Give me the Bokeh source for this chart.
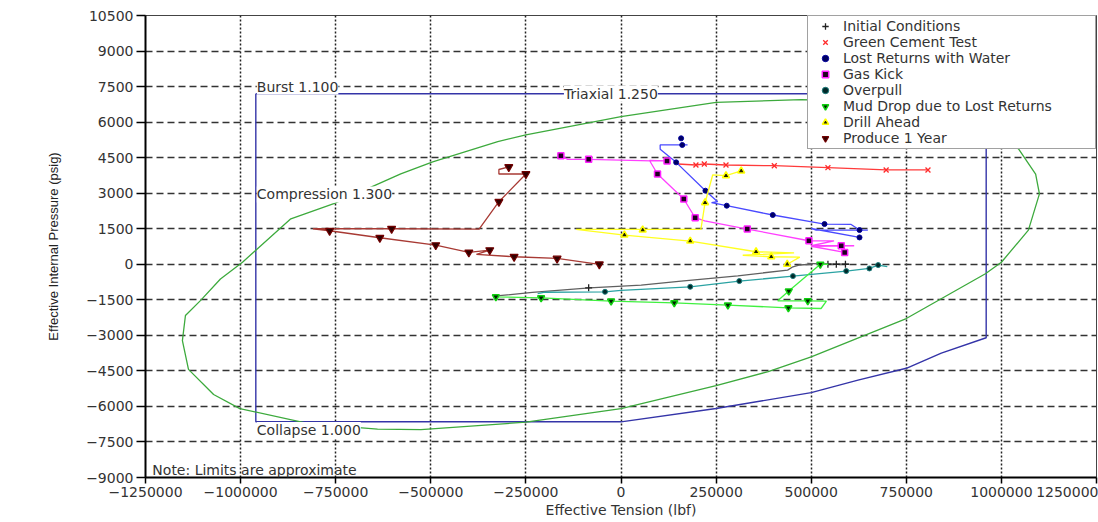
from bokeh.plotting import figure
from bokeh.models import (Range1d, FixedTicker, BasicTickFormatter, Label, Legend, LegendItem)
from bokeh.embed import file_html
from bokeh.resources import INLINE

# ---------------- data ----------------
x_ticks = [-1250000, -1000000, -750000, -500000, -250000, 0, 250000, 500000, 750000, 1000000, 1250000]
y_ticks = [-9000, -7500, -6000, -4500, -3000, -1500, 0, 1500, 3000, 4500, 6000, 7500, 9000, 10500]

# API envelope (blue)
api_x = [-960000, 960000, 960000, 842000, 750000, 623000, 500000, 250000, 0, -960000, -960000]
api_y = [7200, 7200, -3100, -3750, -4390, -4890, -5420, -6090, -6650, -6650, 7200]

# Triaxial ellipse (green)
tri_x = [474000, 250000, 0, -250000, -324000, -495000, -579000, -666000, -755000, -868000, -966000,
         -995000, -1053000, -1105000, -1145000, -1153000, -1137000, -1071000, -1002000, -821000,
         -640000, -526000, -250000, 0, 250000, 387000, 500000, 750000, 958000, 1000000, 1071000,
         1100000, 1090000, 1045000, 950000, 850000, 700000, 474000]
tri_y = [6950, 6835, 6229, 5466, 5176, 4322, 3813, 3190, 2555, 1920, 508,
         85, -622, -1525, -2161, -3220, -4436, -5496, -6090, -6725,
         -6960, -6980, -6665, -6090, -5127, -4530, -3910, -2290, -401, 85, 1440,
         2970, 3800, 4870, 5800, 6400, 6850, 6950]

# Initial Conditions
ic_x = [-334000, -233000, -83000, 53000, 158000, 307000, 438000, 452000, 470000, 500000, 490000, 544000, 566000, 600000]
ic_y = [-1345, -1190, -993, -880, -710, -486, -245, -106, -30, 0, 40, 0, 0, 0]
ic_mx = [-85000, 544000, 566000, 590000]
ic_my = [-993, 0, 0, 0]

# Green Cement Test
gc_x = [149000, 197000, 219000, 276000, 403000, 544000, 697000, 775000, 807000]
gc_y = [4233, 4190, 4233, 4190, 4160, 4077, 3980, 3980, 3980]
gc_mx = [197000, 219000, 276000, 403000, 544000, 697000, 807000]
gc_my = [4190, 4233, 4190, 4160, 4077, 3980, 3980]

# Lost Returns with Water
lr_x = [175000, 103000, 103000, 145000, 222000, 254000, 238000, 278000, 399000, 498000, 535000, 605000,
        627000, 649000, 513000, 500000, 627000]
lr_y = [5036, 5036, 4850, 4301, 3105, 2640, 2600, 2472, 2080, 1796, 1698, 1680,
        1445, 1445, 1445, 1510, 1132]
lr_mx = [158000, 161000, 145000, 222000, 278000, 399000, 535000, 627000, 627000]
lr_my = [5316, 5036, 4301, 3105, 2472, 2080, 1698, 1445, 1132]

# Gas Kick
gk_x = [-158000, -140000, -85000, 79000, 121000, 75000, 96000, 165000, 195000, 220000, 332000, 494000,
        560000, 500000, 613000, 500000, 588000]
gk_y = [4584, 4430, 4428, 4360, 4360, 4380, 3811, 2755, 1965, 1830, 1487, 993,
        990, 782, 782, 760, 498]
gk_mx = [-158000, -85000, 121000, 96000, 165000, 195000, 332000, 494000, 579000, 588000]
gk_my = [4584, 4428, 4360, 3811, 2755, 1965, 1487, 993, 782, 498]

# Overpull
op_x = [-219000, -200000, -42000, 0, 182000, 311000, 452000, 592000, 653000, 676000, 700000]
op_y = [-1235, -1180, -1162, -1100, -950, -710, -500, -287, -177, -34, -100]
op_mx = [-42000, 182000, 311000, 452000, 592000, 653000, 676000]
op_my = [-1162, -950, -710, -500, -287, -177, -34]

# Mud Drop due to Lost Returns
md_x = [-335000, -329000, -210000, -26000, 140000, 281000, 440000, 526000, 540000, 491000, 412000,
        441000, 524000, 545000]
md_y = [-1360, -1373, -1415, -1555, -1627, -1724, -1838, -1867, -1555, -1542, -1542,
        -1132, 0, 0]
md_mx = [-329000, -210000, -26000, 140000, 281000, 440000, 491000, 441000, 524000]
md_my = [-1373, -1415, -1555, -1627, -1724, -1838, -1542, -1132, 0]

# Drill Ahead
da_x = [316000, 276000, 241000, 221000, 210000, 57000, -118000, 9000, 182000, 355000, 455000, 320000,
        395000, 470000, 437000]
da_y = [3938, 3739, 3769, 2598, 1470, 1470, 1470, 1234, 980, 528, 480, 380,
        317, 300, 0]
da_mx = [316000, 276000, 221000, 57000, 9000, 182000, 355000, 395000, 437000]
da_my = [3938, 3739, 2598, 1445, 1234, 980, 528, 317, 0]

# Produce 1 Year
pu_x = [-295000, -321000, -321000, -250000, -321000, -373000, -603000, -810000, -766000, -634000,
        -487000, -400000, -345000, -380000, -281000, -168000, -57000]
pu_y = [4106, 4000, 3810, 3810, 2640, 1487, 1500, 1500, 1415, 1120,
        810, 500, 600, 420, 317, 245, 0]
pu_mx = [-295000, -250000, -321000, -603000, -766000, -634000, -487000, -400000, -345000, -281000, -168000, -57000]
pu_my = [4106, 3810, 2640, 1500, 1415, 1120, 810, 500, 600, 317, 245, 0]

series_names = ["Initial Conditions", "Green Cement Test", "Lost Returns with Water", "Gas Kick",
                "Overpull", "Mud Drop due to Lost Returns", "Drill Ahead", "Produce 1 Year"]

# ---------------- figure ----------------
FONT = "DejaVu Sans"
TXT = "#333333"

p = figure(width=1098, height=522, output_backend="svg", toolbar_location=None,
           x_range=Range1d(-1250000, 1250000), y_range=Range1d(-9000, 10500),
           min_border_left=145, min_border_right=2, min_border_top=15, min_border_bottom=45)
p.background_fill_color = "white"
p.border_fill_color = "white"
p.outline_line_color = "#444444"
p.outline_line_width = 1

for ax in (p.xaxis[0], p.yaxis[0]):
    ax.axis_line_color = "black"
    ax.axis_line_width = 2
    ax.major_tick_line_color = "black"
    ax.major_tick_line_width = 1.5
    ax.minor_tick_line_color = None
    ax.major_label_text_font = FONT
    ax.major_label_text_font_size = "14px"
    ax.major_label_text_color = TXT
    ax.formatter = BasicTickFormatter(use_scientific=False)

p.xaxis[0].ticker = FixedTicker(ticks=x_ticks)
p.yaxis[0].ticker = FixedTicker(ticks=y_ticks)
p.xaxis[0].major_tick_in = 0
p.xaxis[0].major_tick_out = 6
p.xaxis[0].major_label_standoff = 3
p.yaxis[0].major_tick_in = 0
p.yaxis[0].major_tick_out = 9
p.yaxis[0].major_label_standoff = 3

p.xaxis[0].axis_label = "Effective Tension (lbf)"
p.xaxis[0].axis_label_text_font = FONT
p.xaxis[0].axis_label_text_font_size = "14px"
p.xaxis[0].axis_label_text_font_style = "normal"
p.xaxis[0].axis_label_text_color = TXT
p.xaxis[0].axis_label_standoff = 2

p.yaxis[0].axis_label = "Effective Internal Pressure (psig)"
p.yaxis[0].axis_label_text_font = "Liberation Sans Narrow, Liberation Sans, sans-serif"
p.yaxis[0].axis_label_text_font_size = "13px"
p.yaxis[0].axis_label_text_font_style = "normal"
p.yaxis[0].axis_label_text_color = "#222222"
p.yaxis[0].axis_label_standoff = 22

p.xgrid.grid_line_color = "#222222"
p.xgrid.grid_line_dash = "2 2"
p.xgrid.grid_line_width = 1.5
p.ygrid.grid_line_color = "#333333"
p.ygrid.grid_line_dash = "7 4"
p.ygrid.grid_line_width = 1.5

# envelope
p.line(api_x, api_y, line_color="#3434A8", line_width=1.4)
p.line(tri_x, tri_y, line_color="#3DAA3D", line_width=1.3)

styles = [
    (ic_x, ic_y, ic_mx, ic_my, "#606060", dict(marker="cross", size=7, line_color="#222222", line_width=1.3)),
    (gc_x, gc_y, gc_mx, gc_my, "#FF3A3A", dict(marker="x", size=7, line_color="#FF2A2A", line_width=1.3)),
    (lr_x, lr_y, lr_mx, lr_my, "#4A4AFF", dict(marker="circle", size=5, fill_color="#000060", line_color="#0000A0", line_width=1)),
    (gk_x, gk_y, gk_mx, gk_my, "#FF40FF", dict(marker="square", size=6, fill_color="#200020", line_color="#FF20FF", line_width=1.5)),
    (op_x, op_y, op_mx, op_my, "#2BA3A3", dict(marker="circle", size=5, fill_color="#002828", line_color="#1A7A7A", line_width=1)),
    (md_x, md_y, md_mx, md_my, "#40F040", dict(marker="inverted_triangle", size=7, fill_color="#002000", line_color="#10D010", line_width=1.5)),
    (da_x, da_y, da_mx, da_my, "#FFFF20", dict(marker="triangle", size=7, fill_color="#202000", line_color="#FFFF00", line_width=1.5)),
    (pu_x, pu_y, pu_mx, pu_my, "#A83A34", dict(marker="inverted_triangle", size=8, fill_color="#300000", line_color="#700000", line_width=1.2)),
]

items = []
for name, (lx, ly, mx, my, lc, mk) in zip(series_names, styles):
    p.line(lx, ly, line_color=lc, line_width=1.3)
    r = p.scatter(mx, my, **mk)
    items.append(LegendItem(label=name, renderers=[r]))

legend = Legend(items=items, location="top_right", margin=0, padding=2, spacing=0,
                label_height=16, glyph_height=16, glyph_width=30, label_standoff=3,
                label_width=250,
                label_text_font=FONT, label_text_font_size="14px", label_text_color=TXT,
                border_line_color="#444444", border_line_width=1,
                background_fill_color="white", background_fill_alpha=1.0)
p.add_layout(legend)

lab_kw = dict(text_font=FONT, text_font_size="14px", text_color=TXT, text_baseline="middle")
p.add_layout(Label(x=-960000, y=7500, text="Burst 1.100", x_offset=1,
                   background_fill_color="white", **lab_kw))
p.add_layout(Label(x=-150000, y=7200, text="Triaxial 1.250",
                   background_fill_color="white", **lab_kw))
p.add_layout(Label(x=-960000, y=2950, text="Compression 1.300", x_offset=1,
                   background_fill_color="white", **lab_kw))
p.add_layout(Label(x=-960000, y=-7000, text="Collapse 1.000", x_offset=1,
                   background_fill_color="white", **lab_kw))
p.add_layout(Label(x=-1232000, y=-8680, text="Note: Limits are approximate", **lab_kw))

open("out.html", "w").write(file_html(p, INLINE))
